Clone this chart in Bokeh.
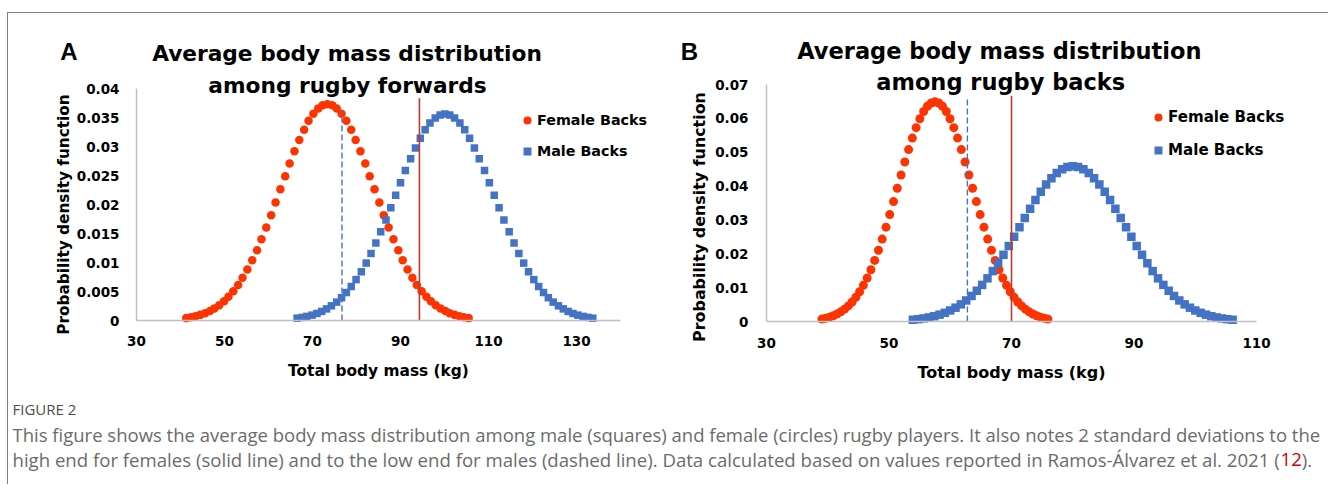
import math
from bokeh.plotting import figure
from bokeh.models import Label, Legend, LegendItem, FixedTicker, Range1d
from bokeh.layouts import column, row
from bokeh.embed import file_html
from bokeh.resources import INLINE

# ---------------- data ----------------
# Panel A: forwards
fwd_female_mass = [41.3, 42.4, 43.4, 44.5, 45.6, 46.7, 47.7, 48.8, 49.9, 50.9, 52.0, 53.1, 54.1, 55.2, 56.3,
                   57.4, 58.4, 59.5, 60.6, 61.6, 62.7, 63.8, 64.8, 65.9, 67.0, 68.1, 69.1, 70.2, 71.3, 72.3,
                   73.4, 74.5, 75.5, 76.6, 77.7, 78.8, 79.8, 80.9, 82.0, 83.0, 84.1, 85.2, 86.2, 87.3, 88.4,
                   89.5, 90.5, 91.6, 92.7, 93.7, 94.8, 95.9, 96.9, 98.0, 99.1, 100.2, 101.2, 102.3, 103.4,
                   104.4, 105.5]
fwd_female_pdf = [0.00041, 0.00056, 0.00074, 0.00097, 0.00127, 0.00164, 0.00209, 0.00265, 0.00332, 0.00411,
                  0.00505, 0.00613, 0.00738, 0.00879, 0.01037, 0.01211, 0.01399, 0.01602, 0.01815, 0.02036,
                  0.02261, 0.02487, 0.02707, 0.02918, 0.03114, 0.03290, 0.03442, 0.03564, 0.03655, 0.03710,
                  0.03728, 0.03710, 0.03655, 0.03564, 0.03442, 0.03290, 0.03114, 0.02918, 0.02707, 0.02487,
                  0.02261, 0.02036, 0.01815, 0.01602, 0.01399, 0.01211, 0.01037, 0.00879, 0.00738, 0.00613,
                  0.00505, 0.00411, 0.00332, 0.00265, 0.00209, 0.00164, 0.00127, 0.00097, 0.00074, 0.00056,
                  0.00041]
fwd_male_mass = [66.5, 67.6, 68.7, 69.9, 71.0, 72.1, 73.2, 74.3, 75.5, 76.6, 77.7, 78.8, 79.9, 81.1, 82.2,
                 83.3, 84.4, 85.5, 86.7, 87.8, 88.9, 90.0, 91.1, 92.3, 93.4, 94.5, 95.6, 96.7, 97.9, 99.0,
                 100.1, 101.2, 102.3, 103.5, 104.6, 105.7, 106.8, 107.9, 109.1, 110.2, 111.3, 112.4, 113.5,
                 114.7, 115.8, 116.9, 118.0, 119.1, 120.3, 121.4, 122.5, 123.6, 124.7, 125.9, 127.0, 128.1,
                 129.2, 130.3, 131.5, 132.6, 133.7]
fwd_male_pdf = [0.00040, 0.00053, 0.00071, 0.00093, 0.00121, 0.00157, 0.00200, 0.00253, 0.00317, 0.00393,
                0.00482, 0.00586, 0.00705, 0.00840, 0.00990, 0.01156, 0.01337, 0.01530, 0.01734, 0.01945,
                0.02160, 0.02376, 0.02587, 0.02788, 0.02975, 0.03144, 0.03288, 0.03405, 0.03491, 0.03544,
                0.03562, 0.03544, 0.03491, 0.03405, 0.03288, 0.03144, 0.02975, 0.02788, 0.02587, 0.02376,
                0.02160, 0.01945, 0.01734, 0.01530, 0.01337, 0.01156, 0.00990, 0.00840, 0.00705, 0.00586,
                0.00482, 0.00393, 0.00317, 0.00253, 0.00200, 0.00157, 0.00121, 0.00093, 0.00071, 0.00053,
                0.00040]
fwd_male_low_2sd = 76.7      # dashed line
fwd_male_low_top = 0.0362
fwd_female_high_2sd = 94.3   # solid line
fwd_female_high_top = 0.0383

# Panel B: backs
back_female_mass = [39.05, 39.67, 40.28, 40.90, 41.51, 42.13, 42.74, 43.36, 43.97, 44.59, 45.20, 45.82, 46.43,
                    47.05, 47.66, 48.28, 48.89, 49.51, 50.12, 50.74, 51.35, 51.97, 52.58, 53.20, 53.81, 54.43,
                    55.04, 55.66, 56.27, 56.89, 57.50, 58.12, 58.73, 59.35, 59.96, 60.58, 61.19, 61.81, 62.42,
                    63.04, 63.65, 64.27, 64.88, 65.50, 66.11, 66.73, 67.34, 67.96, 68.57, 69.19, 69.80, 70.42,
                    71.03, 71.65, 72.26, 72.88, 73.49, 74.11, 74.72, 75.34, 75.95]
back_female_pdf = [0.00072, 0.00097, 0.00129, 0.00169, 0.00221, 0.00285, 0.00364, 0.00461, 0.00577, 0.00715,
                   0.00878, 0.01067, 0.01284, 0.01529, 0.01804, 0.02106, 0.02435, 0.02787, 0.03158, 0.03542,
                   0.03935, 0.04327, 0.04710, 0.05077, 0.05418, 0.05725, 0.05988, 0.06202, 0.06358, 0.06455,
                   0.06487, 0.06455, 0.06358, 0.06202, 0.05988, 0.05725, 0.05418, 0.05077, 0.04710, 0.04327,
                   0.03935, 0.03542, 0.03158, 0.02787, 0.02435, 0.02106, 0.01804, 0.01529, 0.01284, 0.01067,
                   0.00878, 0.00715, 0.00577, 0.00461, 0.00364, 0.00285, 0.00221, 0.00169, 0.00129, 0.00097,
                   0.00072]
back_male_mass = [53.90, 54.77, 55.64, 56.51, 57.38, 58.25, 59.12, 59.99, 60.86, 61.73, 62.60, 63.47, 64.34,
                  65.21, 66.08, 66.95, 67.82, 68.69, 69.56, 70.43, 71.30, 72.17, 73.04, 73.91, 74.78, 75.65,
                  76.52, 77.39, 78.26, 79.13, 80.00, 80.87, 81.74, 82.61, 83.48, 84.35, 85.22, 86.09, 86.96,
                  87.83, 88.70, 89.57, 90.44, 91.31, 92.18, 93.05, 93.92, 94.79, 95.66, 96.53, 97.40, 98.27,
                  99.14, 100.01, 100.88, 101.75, 102.62, 103.49, 104.36, 105.23, 106.10]
back_male_pdf = [0.00051, 0.00068, 0.00091, 0.00120, 0.00156, 0.00202, 0.00257, 0.00326, 0.00408, 0.00506,
                 0.00621, 0.00754, 0.00908, 0.01081, 0.01275, 0.01489, 0.01721, 0.01970, 0.02232, 0.02504,
                 0.02781, 0.03059, 0.03330, 0.03589, 0.03830, 0.04047, 0.04233, 0.04384, 0.04495, 0.04563,
                 0.04586, 0.04563, 0.04495, 0.04384, 0.04233, 0.04047, 0.03830, 0.03589, 0.03330, 0.03059,
                 0.02781, 0.02504, 0.02232, 0.01970, 0.01721, 0.01489, 0.01275, 0.01081, 0.00908, 0.00754,
                 0.00621, 0.00506, 0.00408, 0.00326, 0.00257, 0.00202, 0.00156, 0.00120, 0.00091, 0.00068,
                 0.00051]
back_male_low_2sd = 62.8
back_male_low_top = 0.0662
back_female_high_2sd = 70.0
back_female_high_top = 0.0667

# axes
fwd_x_bounds = (30, 140)
fwd_y_bounds = (0, 0.04)
fwd_x_ticks = [30, 50, 70, 90, 110, 130]
fwd_x_labels = ["30", "50", "70", "90", "110", "130"]
fwd_y_ticks = [0, 0.005, 0.01, 0.015, 0.02, 0.025, 0.03, 0.035, 0.04]
fwd_y_labels = ["0", "0.005", "0.01", "0.015", "0.02", "0.025", "0.03", "0.035", "0.04"]
back_x_bounds = (30, 110)
back_y_bounds = (0, 0.07)
back_x_ticks = [30, 50, 70, 90, 110]
back_x_labels = ["30", "50", "70", "90", "110"]
back_y_ticks = [0, 0.01, 0.02, 0.03, 0.04, 0.05, 0.06, 0.07]
back_y_labels = ["0", "0.01", "0.02", "0.03", "0.04", "0.05", "0.06", "0.07"]

series_names = ["Female Backs", "Male Backs"]
x_title = "Total body mass (kg)"
y_title = "Probability density function"
fwd_title = ["Average body mass distribution", "among rugby forwards"]
back_title = ["Average body mass distribution", "among rugby backs"]

caption_head = "FIGURE 2"
caption_line1 = ("This figure shows the average body mass distribution among male (squares) and female (circles) "
                 "rugby players. It also notes 2 standard deviations to the")
caption_line2 = ("high end for females (solid line) and to the low end for males (dashed line). Data calculated "
                 "based on values reported in Ramos-Álvarez et al. 2021 (")
caption_ref = "12"
caption_end = ")."

# ---------------- styling / layout ----------------
FONT = "DejaVu Sans"
RED = "#FF3300"
BLUE = "#4472C4"
LINE_RED = "#C0392B"
AXIS_GRAY = "#BFBFBF"
FIG_TOP = 13      # page y of the panels' top
FIG_H = 377


def geometry(fig_left, width, xb, x0p, x1p, yb, y0p, y1p):
    """Ranges so that axis bounds land on given page pixels; plus page->data mapper."""
    sx = (x1p - x0p) / (xb[1] - xb[0])
    sy = (y0p - y1p) / (yb[1] - yb[0])
    x_start = xb[0] - (x0p - fig_left) / sx
    y_end = yb[0] + (y0p - FIG_TOP) / sy

    def to_data(px, py):
        return x_start + (px - fig_left) / sx, y_end - (py - FIG_TOP) / sy

    return (x_start, x_start + width / sx), (y_end - FIG_H / sy, y_end), to_data


def style_axis(ax, label, label_size, tick_standoff, label_standoff, ticks, labels, loc, bounds):
    ax.fixed_location = loc
    ax.bounds = bounds
    ax.ticker = FixedTicker(ticks=ticks)
    ax.major_label_overrides = dict(zip(ticks, labels))
    if label:
        ax.axis_label = label
        ax.axis_label_text_font = FONT
        ax.axis_label_text_font_style = "bold"
        ax.axis_label_text_font_size = label_size
        ax.axis_label_text_color = "#000000"
        ax.axis_label_standoff = label_standoff
    ax.major_label_text_font = FONT
    ax.major_label_text_font_style = "bold"
    ax.major_label_text_font_size = "13.5px"
    ax.major_label_text_color = "#000000"
    ax.major_label_standoff = tick_standoff
    ax.axis_line_color = AXIS_GRAY
    ax.axis_line_width = 1.5
    ax.major_tick_line_color = None
    ax.minor_tick_line_color = None
    ax.major_tick_in = 0
    ax.major_tick_out = 0


def make_panel(fig_left, width, xb, x0p, x1p, yb, y0p, y1p, xt, xl, yt, yl,
               f_mass, f_pdf, m_mass, m_pdf, dash_x, dash_top, solid_x, solid_top, csize, ssize,
               letter, letter_pos, titles, title_pos, title_size, legend_topleft, legend_spacing,
               legend_size, xlab_size, ylab_size, ylab_pos, xstand, ystand, xlstand):
    xr, yr, to_data = geometry(fig_left, width, xb, x0p, x1p, yb, y0p, y1p)
    p = figure(width=width, height=FIG_H, x_range=Range1d(*xr), y_range=Range1d(*yr),
               output_backend="svg", toolbar_location=None,
               min_border_left=0, min_border_right=0, min_border_top=0, min_border_bottom=0)
    p.title.visible = False
    p.grid.visible = False
    p.outline_line_color = None
    style_axis(p.xaxis[0], x_title, xlab_size, xstand, xlstand, xt, xl, yb[0], xb)
    style_axis(p.yaxis[0], None, None, ystand, None, yt, yl, xb[0], yb)

    # y-axis title, placed where the reference shows it
    yx, yy = to_data(*ylab_pos)
    p.add_layout(Label(x=yx, y=yy, text=y_title, angle=math.pi / 2, text_font=FONT,
                       text_font_style="bold", text_font_size=ylab_size, text_color="#000000",
                       text_align="center", text_baseline="middle"))

    rf = p.scatter(f_mass, f_pdf, marker="circle", size=csize, fill_color=RED, line_color=None)
    rm = p.scatter(m_mass, m_pdf, marker="square", size=ssize, fill_color=BLUE, line_color=None)
    p.segment(x0=[dash_x], y0=[0], x1=[dash_x], y1=[dash_top], line_color=BLUE,
              line_width=1.4, line_dash="6 3")
    p.segment(x0=[solid_x], y0=[0], x1=[solid_x], y1=[solid_top], line_color=LINE_RED,
              line_width=1.6)

    n = 2
    leg_h = n * 20 + (n - 1) * legend_spacing
    leg = Legend(items=[LegendItem(label=series_names[0], renderers=[rf]),
                        LegendItem(label=series_names[1], renderers=[rm])],
                 location=(legend_topleft[0] - fig_left, FIG_TOP + FIG_H - (legend_topleft[1] + leg_h)),
                 orientation="vertical",
                 glyph_width=20, glyph_height=20, label_height=20, label_standoff=0,
                 spacing=legend_spacing, padding=0, margin=0,
                 border_line_color=None, background_fill_alpha=0,
                 label_text_font=FONT, label_text_font_style="bold",
                 label_text_font_size=legend_size, label_text_color="#000000")
    p.add_layout(leg)

    lx, ly = to_data(*letter_pos)
    p.add_layout(Label(x=lx, y=ly, text=letter, text_font="Liberation Sans",
                       text_font_style="bold", text_font_size="24px", text_color="#000000",
                       text_align="center", text_baseline="middle"))
    for txt, pos in zip(titles, title_pos):
        tx, ty = to_data(*pos)
        p.add_layout(Label(x=tx, y=ty, text=txt, text_font=FONT, text_font_style="bold",
                           text_font_size=title_size, text_color="#000000",
                           text_align="center", text_baseline="middle"))
    return p


pA = make_panel(8, 652, fwd_x_bounds, 136, 620, fwd_y_bounds, 320, 88,
                fwd_x_ticks, fwd_x_labels, fwd_y_ticks, fwd_y_labels,
                fwd_female_mass, fwd_female_pdf, fwd_male_mass, fwd_male_pdf,
                fwd_male_low_2sd, fwd_male_low_top, fwd_female_high_2sd, fwd_female_high_top,
                8.5, 7.5,
                "A", (68.5, 50.5), fwd_title, [(346.5, 53), (347, 85)], "21.7px",
                (517, 110), 11, "14.3px", "15.4px", "15.3px", (63, 214), 15, 17, 13)

pB = make_panel(660, 668, back_x_bounds, 766, 1256, back_y_bounds, 321, 84,
                back_x_ticks, back_x_labels, back_y_ticks, back_y_labels,
                back_female_mass, back_female_pdf, back_male_mass, back_male_pdf,
                back_male_low_2sd, back_male_low_top, back_female_high_2sd, back_female_high_top,
                9, 8.5,
                "B", (689, 51), back_title, [(998.9, 50), (1000.2, 81.7)], "22.5px",
                (1148, 107.3), 13, "15.1px", "16px", "15.9px", (699, 216.5), 16, 18, 12)

# caption panel (pixel-like coordinates: x = page x - 8, y = 484 - page y)
CAP_W, CAP_H = 1320, 94
pC = figure(width=CAP_W, height=CAP_H, x_range=Range1d(0, CAP_W), y_range=Range1d(0, CAP_H),
            output_backend="svg", toolbar_location=None,
            x_axis_location=None, y_axis_location=None,
            min_border_left=0, min_border_right=0, min_border_top=0, min_border_bottom=0)
pC.title.visible = False
pC.grid.visible = False
pC.outline_line_color = None
CAP_FONT = "Open Sans"
CAP_GRAY = "#6b6b6b"
L2_SIZE = "18.6px"
pC.add_layout(Label(x=4, y=76, text=caption_head, text_font=CAP_FONT, text_font_size="15px",
                    text_color="#4d4d4d", text_baseline="middle"))
pC.add_layout(Label(x=4, y=50, text=caption_line1, text_font=CAP_FONT, text_font_size="18.5px",
                    text_color=CAP_GRAY, text_baseline="middle"))
pC.add_layout(Label(x=4, y=25, text=caption_line2, text_font=CAP_FONT, text_font_size=L2_SIZE,
                    text_color=CAP_GRAY, text_baseline="middle", text_align="left"))
pC.add_layout(Label(x=1272, y=25, text=caption_ref, text_font=CAP_FONT, text_font_size=L2_SIZE,
                    text_color="#CC0000", text_baseline="middle", text_align="left"))
pC.add_layout(Label(x=1293.3, y=25, text=caption_end, text_font=CAP_FONT, text_font_size=L2_SIZE,
                    text_color=CAP_GRAY, text_baseline="middle", text_align="left"))

layout = column(row(pA, pB), pC,
                styles={"margin-top": "12px", "margin-left": "7px",
                        "border-top": "1px solid #808080", "border-left": "1px solid #808080"})

open("out.html", "w").write(file_html(layout, INLINE))
